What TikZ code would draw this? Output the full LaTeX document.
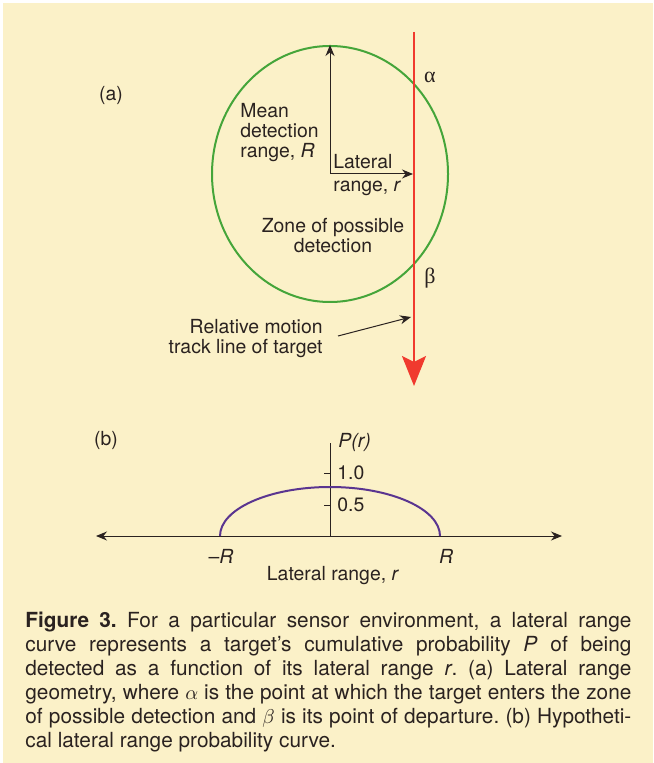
\documentclass[tikz,border=0pt]{standalone}
\usepackage{fontspec}
\setmainfont{TeX Gyre Heros}
\newfontfamily\greekfont{Liberation Serif}
\usepackage{xcolor}
\usetikzlibrary{arrows.meta,positioning,shapes.geometric}
\definecolor{LCream}{HTML}{FBF1C8}
\definecolor{LGreen}{HTML}{45A53A}
\definecolor{LRed}{HTML}{F03A2E}
\definecolor{LPurple}{HTML}{5A3590}
\definecolor{LInk}{HTML}{2A2220}
\frenchspacing

\begin{document}
\begin{tikzpicture}[
  x=0.5pt,y=-0.5pt,
  every node/.style={font=\fontsize{9.7}{10}\selectfont,color=LInk,inner sep=0pt},
  zone/.style={ellipse,draw=LGreen,line width=1pt,
    minimum width=118pt,minimum height=128pt},
  arr/.style={-{Stealth[length=5.5pt,width=4.5pt]},line width=0.5pt,draw=LInk},
  axis/.style={{Stealth[length=5.5pt,width=4.5pt]}-{Stealth[length=5.5pt,width=4.5pt]},
    line width=0.5pt,draw=LInk},
  track/.style={-{Stealth[length=15pt,width=12pt,inset=3pt]},line width=1pt,
    draw=LRed,color=LRed},
  curve/.style={draw=LPurple,line width=1pt},
  tick/.style={line width=0.5pt,draw=LInk}
]
  \useasboundingbox (0,0) rectangle (653,763);
  \fill[white] (0,0) rectangle (653,763);
  \fill[LCream] (3,3) rectangle (653,763);

  % (a) lateral range geometry
  \node (tagA) at (111,95) {(a)};
  \node[zone] (detzone) at (330,174) {};
  \coordinate (ctr) at (330,174);
  \coordinate (trackTop) at (414,32);
  \coordinate (trackEnd) at (414,386);
  \coordinate (trackHit) at (413,174);
  \draw[track] (trackTop) -- (trackEnd);
  \draw[arr] (ctr) -- (detzone.north);
  \draw[arr] (ctr) -- (trackHit);
  \node[font=\greekfont\fontsize{11}{11}\selectfont] (alpha) at (430,77) {α};
  \node[font=\greekfont\fontsize{11}{11}\selectfont] (beta) at (430,278) {β};
  \node[align=left,anchor=west] (meanR) at (240,133)
    {Mean\\detection\\range, \textit{R}};
  \node[anchor=west] (latTop) at (333,162) {Lateral};
  \node[anchor=west] (latBot) at (333,188) {range, \textit{r}};
  \node[align=center] (zoneLbl) at (333,236) {Zone of possible\\detection};
  \node[align=right,anchor=east] (motion) at (323,339)
    {Relative motion\\track line of target};
  \coordinate (pointTip) at (411,317);
  \draw[arr] (motion.east) ++(15,-3) -- (pointTip);

  % (b) lateral range probability curve
  \node (tagB) at (106,440) {(b)};
  \coordinate (axL) at (96,536);
  \coordinate (axR) at (562,536);
  \coordinate (org) at (330,536);
  \coordinate (pTop) at (330,443);
  \draw[axis] (axL) -- (axR);
  \draw[tick] (org) -- (pTop);
  \draw[tick] (324,473) -- (330,473);
  \draw[tick] (324,505) -- (330,505);
  \node[anchor=west] (pLbl) at (338,442) {\textit{P(r)}};
  \node[anchor=west] (oneLbl) at (337,473) {1.0};
  \node[anchor=west] (halfLbl) at (337,505) {0.5};
  \draw[curve] (220,536) arc[start angle=180,end angle=0,
    x radius=55pt,y radius=24.5pt];
  \node (minusR) at (221,556) {--\textit{R}};
  \node (plusR) at (446,556) {\textit{R}};
  \node (rangeLbl) at (333,576) {Lateral range, \textit{r}};

  % caption
  \node[anchor=north west,text width=303pt,align=justify,
    font=\fontsize{10.4}{12}\selectfont] (caption) at (25,612)
    {\textbf{Figure 3.} For a particular sensor environment, a lateral range\linebreak
    curve represents a target's cumulative probability \textit{P} of being\linebreak
    detected as a function of its lateral range \textit{r}. (a) Lateral range\linebreak
    geometry, where $\alpha$ is the point at which the target enters the zone\linebreak
    of possible detection and $\beta$ is its point of departure. (b) Hypotheti-\linebreak
    cal lateral range probability curve.};
\end{tikzpicture}
\end{document}
